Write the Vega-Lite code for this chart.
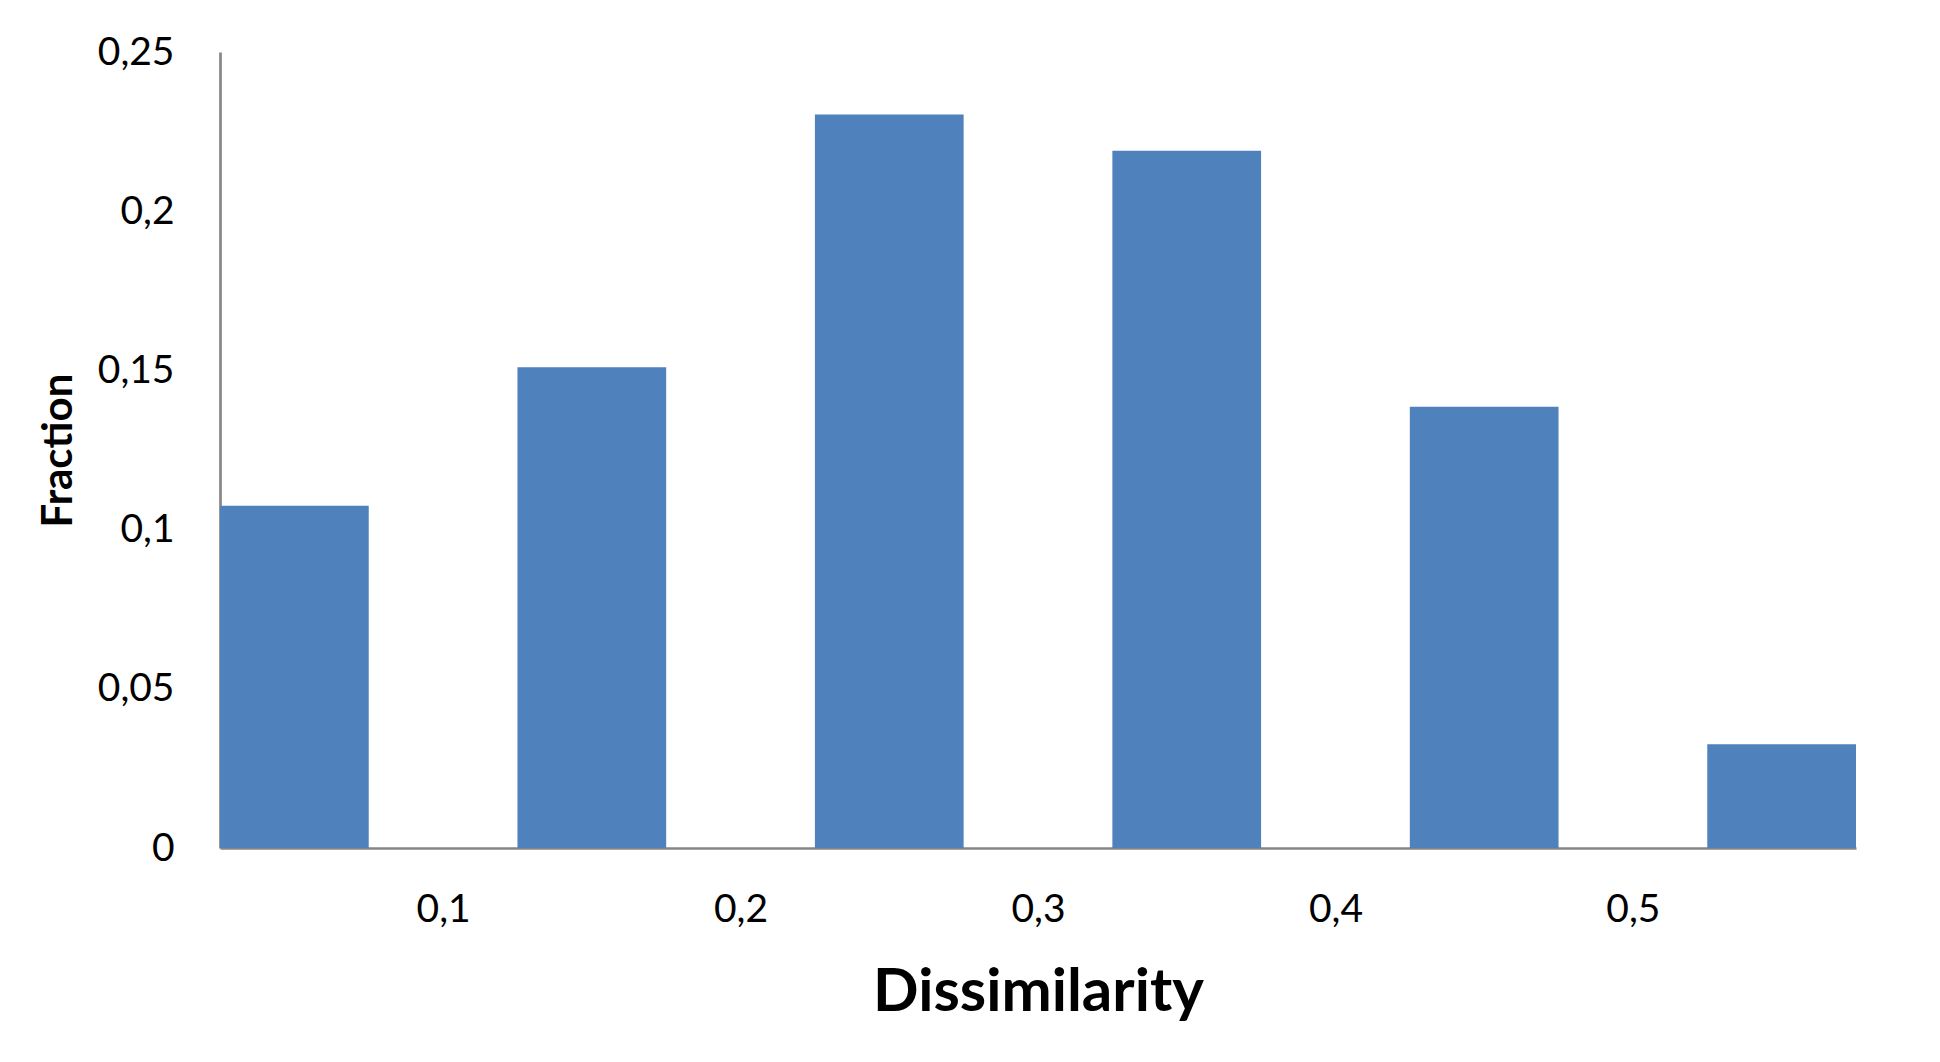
{
  "$schema": "https://vega.github.io/schema/vega-lite/v6.json",
  "autosize": "none",
  "width": 1636,
  "height": 796,
  "padding": {"left": 220, "top": 52, "right": 84, "bottom": 214},
  "background": "white",
  "config": {
    "view": {"stroke": null},
    "font": "Lato"
  },
  "data": {
    "values": [
      {"start": 0.025, "end": 0.075, "fraction": 0.1075},
      {"start": 0.125, "end": 0.175, "fraction": 0.151},
      {"start": 0.225, "end": 0.275, "fraction": 0.2304},
      {"start": 0.325, "end": 0.375, "fraction": 0.219},
      {"start": 0.425, "end": 0.475, "fraction": 0.1386},
      {"start": 0.525, "end": 0.575, "fraction": 0.0326}
    ]
  },
  "mark": {"type": "bar", "color": "#4f81bd"},
  "encoding": {
    "x": {
      "field": "start",
      "type": "quantitative",
      "scale": {"domain": [0.025, 0.575], "nice": false, "zero": false},
      "axis": {
        "title": "Dissimilarity",
        "values": [0.1, 0.2, 0.3, 0.4, 0.5],
        "labelExpr": "replace(format(datum.value, '.1f'), '.', ',')",
        "grid": false,
        "ticks": false,
        "domainColor": "#868686",
        "domainWidth": 2.7,
        "labelFont": "Lato",
        "labelFontSize": 39,
        "labelColor": "#000000",
        "labelPadding": 42,
        "labelFlush": false,
        "titleFont": "Lato",
        "titleFontSize": 60,
        "titleFontWeight": "bold",
        "titleColor": "#000000",
        "titleBaseline": "alphabetic",
        "titleY": 162
      }
    },
    "x2": {"field": "end"},
    "y": {
      "field": "fraction",
      "type": "quantitative",
      "scale": {"domain": [0, 0.25], "nice": false},
      "axis": {
        "title": "Fraction",
        "values": [0, 0.05, 0.1, 0.15, 0.2, 0.25],
        "labelExpr": "replace(format(datum.value, '~g'), '.', ',')",
        "grid": false,
        "ticks": false,
        "domainColor": "#868686",
        "domainWidth": 2.7,
        "labelFont": "Lato",
        "labelFontSize": 39,
        "labelColor": "#000000",
        "labelPadding": 46,
        "labelFlush": false,
        "titleFont": "Lato",
        "titleFontSize": 42,
        "titleFontWeight": "bold",
        "titleColor": "#000000",
        "titleAngle": -90,
        "titleBaseline": "alphabetic",
        "titleAlign": "center",
        "titleX": -149,
        "titleY": 398
      }
    },
    "y2": {"datum": 0}
  }
}
